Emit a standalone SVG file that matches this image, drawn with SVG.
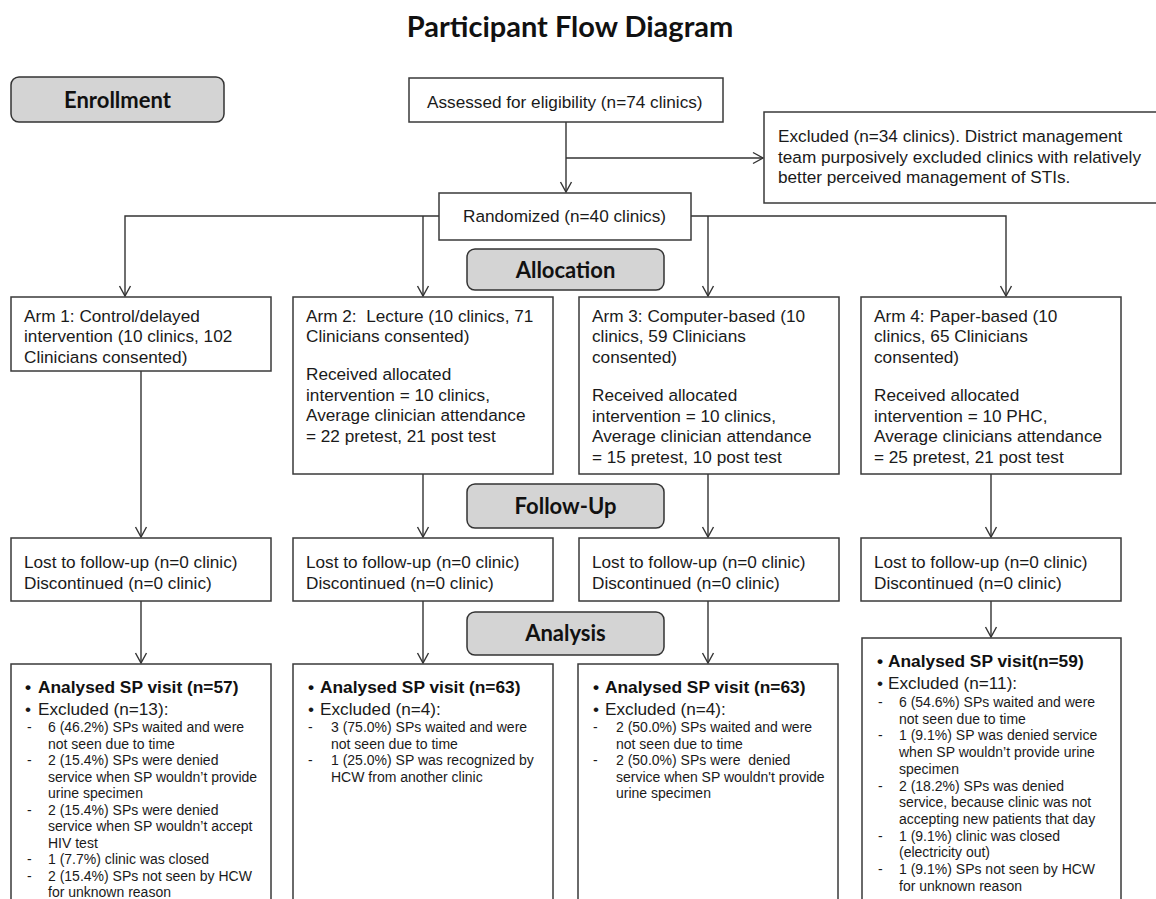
<svg xmlns="http://www.w3.org/2000/svg" width="1156" height="899" viewBox="0 0 1156 899">
<defs>
<style>
.bg{fill:#ffffff}
.box{fill:#ffffff;stroke:#3a3a3a;stroke-width:1.5}
.stage{fill:#d4d4d4;stroke:#333333;stroke-width:1.5}
.stg{font-family:Lato,"Open Sans",sans-serif;font-weight:700;font-size:22px;fill:#111;text-anchor:middle}
.ttl{font-family:Lato,"Open Sans",sans-serif;font-weight:700;font-size:29px;fill:#111;text-anchor:middle}
.t{font-family:"Liberation Sans",Arial,sans-serif;font-size:17.2px;fill:#1a1a1a;white-space:pre}
.b{font-family:"Liberation Sans",Arial,sans-serif;font-size:17.33px;font-weight:700;fill:#111;white-space:pre}
.s{font-family:"Liberation Sans",Arial,sans-serif;font-size:14px;fill:#1a1a1a;white-space:pre}
.c{fill:none;stroke:#333333;stroke-width:1.4}
</style>
<marker id="arr" markerUnits="userSpaceOnUse" markerWidth="14" markerHeight="14" viewBox="0 0 14 14" refX="12" refY="7" orient="auto">
<path d="M2,1.5 L12,7 L2,12.5" fill="none" stroke="#333333" stroke-width="1.4"/>
</marker>
</defs>
<rect class="bg" x="0" y="0" width="1156" height="899"/>

<text class="ttl" x="570" y="37">Participant Flow Diagram</text>

<g id="connectors">
<path class="c" d="M566,122 V192" marker-end="url(#arr)"/>
<path class="c" d="M566,158 H763" marker-end="url(#arr)"/>
<path class="c" d="M439,216 H125 V296" marker-end="url(#arr)"/>
<path class="c" d="M423,216 V296" marker-end="url(#arr)"/>
<path class="c" d="M691,216 H1006 V296" marker-end="url(#arr)"/>
<path class="c" d="M708,216 V296" marker-end="url(#arr)"/>
<path class="c" d="M141,371 V537" marker-end="url(#arr)"/>
<path class="c" d="M423,474 V537" marker-end="url(#arr)"/>
<path class="c" d="M708,474 V537" marker-end="url(#arr)"/>
<path class="c" d="M991,474 V537" marker-end="url(#arr)"/>
<path class="c" d="M141,601 V663" marker-end="url(#arr)"/>
<path class="c" d="M423,601 V663" marker-end="url(#arr)"/>
<path class="c" d="M708,601 V663" marker-end="url(#arr)"/>
<path class="c" d="M991,601 V637" marker-end="url(#arr)"/>
</g>

<g id="enrollment">
<rect class="stage" x="11" y="77" width="213" height="45" rx="8"/>
<text class="stg" x="117.5" y="107.5">Enrollment</text>
</g>

<g id="assessed">
<rect class="box" x="409" y="78" width="314" height="44"/>
<text class="t" x="427" y="108">Assessed for eligibility (n=74 clinics)</text>
</g>

<g id="excluded">
<rect class="box" x="764" y="112" width="400" height="91"/>
<text class="t" x="778" y="142">Excluded (n=34 clinics). District management</text>
<text class="t" x="778" y="162.7">team purposively excluded clinics with relatively</text>
<text class="t" x="778" y="183.4">better perceived management of STIs.</text>
</g>

<g id="randomized">
<rect class="box" x="439" y="193" width="252" height="47"/>
<text class="t" x="463" y="222">Randomized (n=40 clinics)</text>
</g>

<g id="allocation">
<rect class="stage" x="467" y="249" width="197" height="41" rx="8"/>
<text class="stg" x="565.5" y="277.5">Allocation</text>
</g>

<g id="arm1">
<rect class="box" x="11" y="297" width="260" height="74"/>
<text class="t" x="24" y="321.7">Arm 1: Control/delayed</text>
<text class="t" x="24" y="342.4">intervention (10 clinics, 102</text>
<text class="t" x="24" y="363.1">Clinicians consented)</text>
</g>

<g id="arm2">
<rect class="box" x="293" y="297" width="260" height="177"/>
<text class="t" x="306" y="321.7">Arm 2:  Lecture (10 clinics, 71</text>
<text class="t" x="306" y="342.4">Clinicians consented)</text>
<text class="t" x="306" y="380">Received allocated</text>
<text class="t" x="306" y="400.7">intervention = 10 clinics,</text>
<text class="t" x="306" y="421.4">Average clinician attendance</text>
<text class="t" x="306" y="442.1">= 22 pretest, 21 post test</text>
</g>

<g id="arm3">
<rect class="box" x="579" y="297" width="260" height="177"/>
<text class="t" x="592" y="321.7">Arm 3: Computer-based (10</text>
<text class="t" x="592" y="342.4">clinics, 59 Clinicians</text>
<text class="t" x="592" y="363.1">consented)</text>
<text class="t" x="592" y="401">Received allocated</text>
<text class="t" x="592" y="421.7">intervention = 10 clinics,</text>
<text class="t" x="592" y="442.4">Average clinician attendance</text>
<text class="t" x="592" y="463.1">= 15 pretest, 10 post test</text>
</g>

<g id="arm4">
<rect class="box" x="861" y="297" width="260" height="177"/>
<text class="t" x="874" y="321.7">Arm 4: Paper-based (10</text>
<text class="t" x="874" y="342.4">clinics, 65 Clinicians</text>
<text class="t" x="874" y="363.1">consented)</text>
<text class="t" x="874" y="401">Received allocated</text>
<text class="t" x="874" y="421.7">intervention = 10 PHC,</text>
<text class="t" x="874" y="442.4">Average clinicians attendance</text>
<text class="t" x="874" y="463.1">= 25 pretest, 21 post test</text>
</g>

<g id="followup">
<rect class="stage" x="467" y="484" width="197" height="44" rx="8"/>
<text class="stg" x="565.5" y="514">Follow-Up</text>
</g>

<g id="lost1">
<rect class="box" x="11" y="538" width="260" height="63"/>
<text class="t" x="24" y="568">Lost to follow-up (n=0 clinic)</text>
<text class="t" x="24" y="589">Discontinued (n=0 clinic)</text>
</g>
<g id="lost2">
<rect class="box" x="293" y="538" width="260" height="63"/>
<text class="t" x="306" y="568">Lost to follow-up (n=0 clinic)</text>
<text class="t" x="306" y="589">Discontinued (n=0 clinic)</text>
</g>
<g id="lost3">
<rect class="box" x="579" y="538" width="260" height="63"/>
<text class="t" x="592" y="568">Lost to follow-up (n=0 clinic)</text>
<text class="t" x="592" y="589">Discontinued (n=0 clinic)</text>
</g>
<g id="lost4">
<rect class="box" x="861" y="538" width="260" height="63"/>
<text class="t" x="874" y="568">Lost to follow-up (n=0 clinic)</text>
<text class="t" x="874" y="589">Discontinued (n=0 clinic)</text>
</g>

<g id="analysis">
<rect class="stage" x="467" y="612" width="197" height="43" rx="8"/>
<text class="stg" x="565.5" y="641">Analysis</text>
</g>

<g id="analysed1">
<rect class="box" x="11" y="664" width="260" height="260"/>
<text class="b" x="25" y="693">•</text><text class="b" x="38" y="693">Analysed SP visit (n=57)</text>
<text class="t" x="25" y="715">•</text><text class="t" x="38" y="715">Excluded (n=13):</text>
<text class="s" x="27" y="732">-</text><text class="s" x="48" y="732">6 (46.2%) SPs waited and were</text>
<text class="s" x="48" y="748.5">not seen due to time</text>
<text class="s" x="27" y="765">-</text><text class="s" x="48" y="765">2 (15.4%) SPs were denied</text>
<text class="s" x="48" y="781.5">service when SP wouldn’t provide</text>
<text class="s" x="48" y="798">urine specimen</text>
<text class="s" x="27" y="814.5">-</text><text class="s" x="48" y="814.5">2 (15.4%) SPs were denied</text>
<text class="s" x="48" y="831">service when SP wouldn’t accept</text>
<text class="s" x="48" y="847.5">HIV test</text>
<text class="s" x="27" y="864">-</text><text class="s" x="48" y="864">1 (7.7%) clinic was closed</text>
<text class="s" x="27" y="880.5">-</text><text class="s" x="48" y="880.5">2 (15.4%) SPs not seen by HCW</text>
<text class="s" x="48" y="897">for unknown reason</text>
</g>

<g id="analysed2">
<rect class="box" x="293" y="664" width="260" height="260"/>
<text class="b" x="308" y="693">•</text><text class="b" x="320" y="693">Analysed SP visit (n=63)</text>
<text class="t" x="308" y="715">•</text><text class="t" x="320" y="715">Excluded (n=4):</text>
<text class="s" x="308" y="732">-</text><text class="s" x="331" y="732">3 (75.0%) SPs waited and were</text>
<text class="s" x="331" y="748.5">not seen due to time</text>
<text class="s" x="308" y="765">-</text><text class="s" x="331" y="765">1 (25.0%) SP was recognized by</text>
<text class="s" x="331" y="781.5">HCW from another clinic</text>
</g>

<g id="analysed3">
<rect class="box" x="578" y="664" width="260" height="260"/>
<text class="b" x="593" y="693">•</text><text class="b" x="605" y="693">Analysed SP visit (n=63)</text>
<text class="t" x="593" y="715">•</text><text class="t" x="605" y="715">Excluded (n=4):</text>
<text class="s" x="593" y="732">-</text><text class="s" x="616" y="732">2 (50.0%) SPs waited and were</text>
<text class="s" x="616" y="748.5">not seen due to time</text>
<text class="s" x="593" y="765">-</text><text class="s" x="616" y="765">2 (50.0%) SPs were  denied</text>
<text class="s" x="616" y="781.5">service when SP wouldn't provide</text>
<text class="s" x="616" y="798">urine specimen</text>
</g>

<g id="analysed4">
<rect class="box" x="862" y="638" width="259" height="290"/>
<text class="b" x="877" y="667">•</text><text class="b" x="888" y="667">Analysed SP visit(n=59)</text>
<text class="t" x="877" y="688.5">•</text><text class="t" x="888" y="688.5">Excluded (n=11):</text>
<text class="s" x="878" y="707">-</text><text class="s" x="899" y="707">6 (54.6%) SPs waited and were</text>
<text class="s" x="899" y="723.7">not seen due to time</text>
<text class="s" x="878" y="740.4">-</text><text class="s" x="899" y="740.4">1 (9.1%) SP was denied service</text>
<text class="s" x="899" y="757.1">when SP wouldn’t provide urine</text>
<text class="s" x="899" y="773.8">specimen</text>
<text class="s" x="878" y="790.5">-</text><text class="s" x="899" y="790.5">2 (18.2%) SPs was denied</text>
<text class="s" x="899" y="807.2">service, because clinic was not</text>
<text class="s" x="899" y="823.9">accepting new patients that day</text>
<text class="s" x="878" y="840.6">-</text><text class="s" x="899" y="840.6">1 (9.1%) clinic was closed</text>
<text class="s" x="899" y="857.3">(electricity out)</text>
<text class="s" x="878" y="874">-</text><text class="s" x="899" y="874">1 (9.1%) SPs not seen by HCW</text>
<text class="s" x="899" y="890.7">for unknown reason</text>
</g>
</svg>
